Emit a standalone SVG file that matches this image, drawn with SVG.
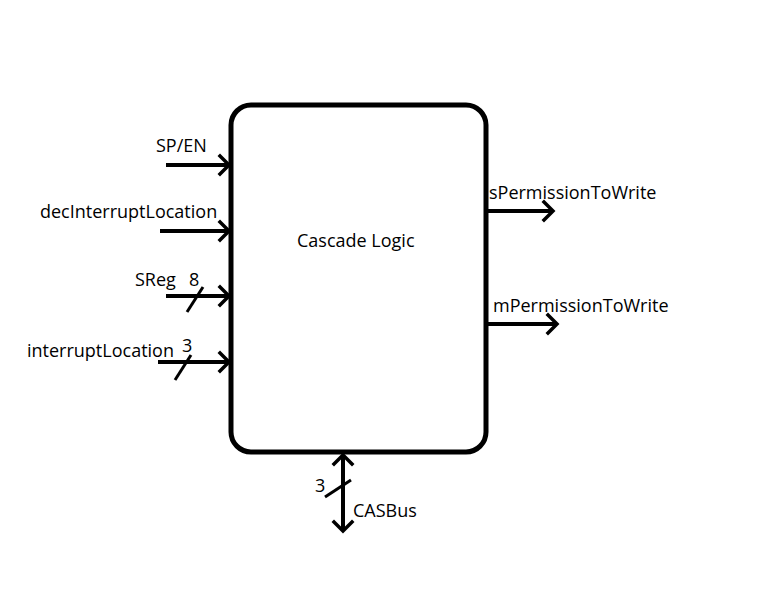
<svg xmlns="http://www.w3.org/2000/svg" width="768" height="614" viewBox="0 0 768 614">
<style>
text{font-family:"Open Sans","Liberation Sans",sans-serif;font-size:18px;fill:#000}
.w{stroke:#000;stroke-width:4;fill:none;stroke-linecap:butt}
.h{stroke:#000;stroke-width:3.5;fill:none;stroke-linecap:square;stroke-linejoin:miter}
.s{stroke:#000;stroke-width:3;fill:none}
</style>
<rect width="768" height="614" fill="#fff"/>
<g id="cascade">
<rect x="231" y="105" width="255" height="347" rx="20" ry="20" fill="#fff" stroke="#000" stroke-width="5"/>
<text x="297" y="247">Cascade Logic</text>
</g>
<g id="connectors">
<path class="w" d="M166 165H229"/><path class="h" d="M220 156L229 165L220 174"/>
<path class="w" d="M160 231H229"/><path class="h" d="M220 222L229 231L220 240"/>
<path class="w" d="M166 296H229"/><path class="h" d="M220 287L229 296L220 305"/>
<path class="s" d="M187 312L203 287"/>
<path class="w" d="M158 362H229"/><path class="h" d="M220 353L229 362L220 371"/>
<path class="s" d="M175 380L191 355"/>
<path class="w" d="M488 211H553"/><path class="h" d="M544 202L553 211L544 220"/>
<path class="w" d="M488 324H557"/><path class="h" d="M548 315L557 324L548 333"/>
<path class="w" d="M343 455V531"/><path class="h" d="M334 464L343 455L352 464"/><path class="h" d="M334 522L343 531L352 522"/>
<path class="s" d="M325 497L351 480"/>
</g>
<g id="labels">
<text x="156" y="152">SP/EN</text>
<text x="40" y="218">decInterruptLocation</text>
<text x="135" y="286">SReg</text>
<text x="189" y="286">8</text>
<text x="27" y="357">interruptLocation</text>
<text x="182" y="352">3</text>
<text x="489" y="199">sPermissionToWrite</text>
<text x="493" y="312">mPermissionToWrite</text>
<text x="315" y="492">3</text>
<text x="353" y="517">CASBus</text>
</g>
</svg>
